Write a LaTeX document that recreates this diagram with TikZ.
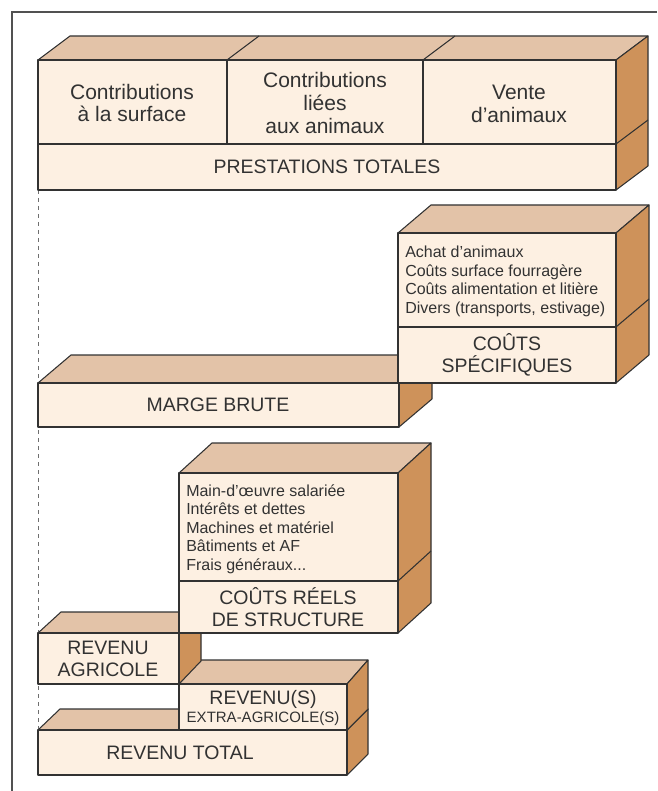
\documentclass[tikz,border=0pt]{standalone}
\usepackage{fontspec}
\setmainfont{Liberation Sans}
\usepackage{tikz}
\usetikzlibrary{positioning}

\definecolor{facefront}{RGB}{253,240,226}
\definecolor{facetop}{RGB}{227,195,168}
\definecolor{faceside}{RGB}{206,146,90}
\definecolor{trait}{RGB}{50,50,50}

\tikzset{
  frontface/.style={draw=trait, line width=0.8pt, fill=facefront, line join=round},
  topface/.style={draw=trait, line width=0.8pt, fill=facetop, line join=round},
  sideface/.style={draw=trait, line width=0.8pt, fill=faceside, line join=round},
  grand/.style={align=center, inner sep=0pt, text=trait, font=\fontsize{15.75}{17}\selectfont},
  titre/.style={align=center, inner sep=0pt, text=trait, font=\fontsize{14.6}{16.9}\selectfont},
  liste/.style={align=left, inner sep=0pt, anchor=north west, text=trait, font=\fontsize{12}{13.9}\selectfont},
  petit/.style={inner sep=0pt, text=trait, font=\fontsize{11.25}{13}\selectfont}
}

\begin{document}
\begin{tikzpicture}[x=0.75pt, y=-0.75pt]
    \useasboundingbox (0,0) rectangle (657,791);

    % Cadre
    \draw[trait!85, line width=0.9pt] (657,12) -- (12,12) -- (12,791);

    % Ligne pointillée à gauche
    \draw[dashed, trait!70, line width=0.6pt] (38,190) -- (38,730);

    % --- PRESTATIONS TOTALES ---
    \draw[topface] (38,60) -- (70,36) -- (648,36) -- (616,60) -- cycle;
    \draw[topface] (227,60) -- (259,36);
    \draw[topface] (423,60) -- (455,36);
    \draw[sideface] (616,60) -- (648,36) -- (648,166) -- (616,190) -- cycle;
    \draw[sideface] (616,144) -- (648,120);
    \draw[frontface] (38,60) rectangle (616,190);
    \draw[frontface] (38,144) -- (616,144);
    \draw[frontface] (227,60) -- (227,144); % séparations
    \draw[frontface] (423,60) -- (423,144);
    \node[grand] (surface) at (132,103) {Contributions\\à la surface};
    \node[grand] (animaux) at (325,103) {Contributions\\liées\\aux animaux};
    \node[grand] (vente) at (519,104) {Vente\\d’animaux};
    \node[titre] (prest) at (327,167) {PRESTATIONS TOTALES};

    % --- MARGE BRUTE (derrière les coûts spécifiques) ---
    \draw[topface] (38,383) -- (71,355) -- (432,355) -- (399,383) -- cycle;
    \draw[sideface] (399,383) -- (432,355) -- (432,399) -- (399,427) -- cycle;
    \draw[frontface] (38,383) rectangle (399,427);
    \node[titre] (marge) at (218,405) {MARGE BRUTE};

    % --- COÛTS SPÉCIFIQUES ---
    \draw[topface] (398,233) -- (431,205) -- (649,205) -- (616,233) -- cycle;
    \draw[sideface] (616,233) -- (649,205) -- (649,355) -- (616,383) -- cycle;
    \draw[sideface] (616,327) -- (649,299);
    \draw[frontface] (398,233) rectangle (616,383);
    \draw[frontface] (398,327) -- (616,327);
    \node[liste] (specliste) at (405,246)
        {Achat d’animaux\\Coûts surface fourragère\\Coûts alimentation et litière\\Divers (transports, estivage)};
    \node[titre] (spec) at (507,355) {COÛTS\\SPÉCIFIQUES};

    % --- REVENU TOTAL ---
    \draw[topface] (38,730) -- (60,709) -- (368,709) -- (347,730) -- cycle;
    \draw[sideface] (347,730) -- (368,709) -- (368,754) -- (347,775) -- cycle;
    \draw[frontface] (38,730) rectangle (347,775);
    \node[titre] (total) at (180,753) {REVENU TOTAL};

    % --- REVENU(S) EXTRA-AGRICOLE(S) ---
    \draw[topface] (179,684) -- (200,660) -- (368,660) -- (347,684) -- cycle;
    \draw[sideface] (347,684) -- (368,660) -- (368,709) -- (347,730) -- cycle;
    \draw[frontface] (179,684) rectangle (347,730);
    \node[titre] (extra) at (263,699) {REVENU(S)};
    \node[petit] (extrab) at (263,719) {EXTRA-AGRICOLE(S)};

    % --- REVENU AGRICOLE ---
    \draw[topface] (38,633) -- (61,612) -- (201,612) -- (179,633) -- cycle;
    \draw[sideface] (179,633) -- (201,612) -- (201,661) -- (179,684) -- cycle;
    \draw[frontface] (38,633) rectangle (179,684);
    \node[titre] (agri) at (108,659) {REVENU\\AGRICOLE};

    % --- COÛTS RÉELS DE STRUCTURE ---
    \draw[topface] (179,473) -- (212,443) -- (431,443) -- (398,473) -- cycle;
    \draw[sideface] (398,473) -- (431,443) -- (431,603) -- (398,633) -- cycle;
    \draw[sideface] (398,581) -- (431,551);
    \draw[frontface] (179,473) rectangle (398,633);
    \draw[frontface] (179,581) -- (398,581);
    \node[liste] (structliste) at (186,484)
        {Main-d’œuvre salariée\\Intérêts et dettes\\Machines et matériel\\Bâtiments et AF\\Frais généraux...};
    \node[titre] (struct) at (288,607) {COÛTS RÉELS\\DE STRUCTURE};

\end{tikzpicture}
\end{document}
